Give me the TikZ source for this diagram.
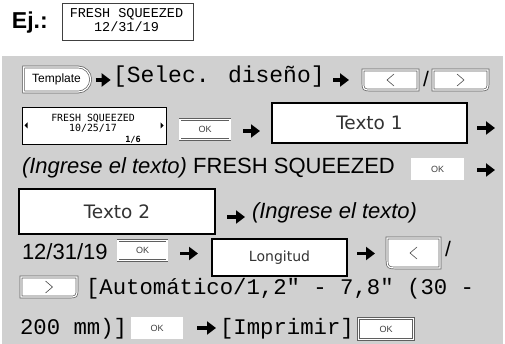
\documentclass[tikz,border=0pt]{standalone}
\usepackage{fontspec}
\setmainfont{Liberation Sans}
\newfontfamily\courf{Liberation Mono}
\newfontfamily\lcdf{DejaVu Sans Mono}
\newfontfamily\dejf{DejaVu Sans}
\usetikzlibrary{arrows.meta,shapes.misc,calc}
\definecolor{panel}{RGB}{208,208,208}
\definecolor{btnline}{RGB}{95,95,95}
\newcommand\leftkey[2]{\draw[btn] (#1.north west) -- (#1.north east) -- (#1.south east) -- ([xshift=#2]#1.south west) .. controls (#1.south west) .. ([yshift=#2]#1.south west) -- cycle;
  \draw[chev] ($(#1)+(3.5,-6)$) -- ($(#1)+(-3.5,0)$) -- ($(#1)+(3.5,6)$);}
\newcommand\rightkey[2]{\draw[btn] (#1.north west) -- (#1.north east) -- ([yshift=#2]#1.south east) .. controls (#1.south east) .. ([xshift=-#2]#1.south east) -- (#1.south west) -- cycle;
  \draw[chev] ($(#1)+(-3.5,-6)$) -- ($(#1)+(3.5,0)$) -- ($(#1)+(-3.5,6)$);}
\begin{document}
\begin{tikzpicture}[x=1pt,y=-1pt,
  every node/.style={inner sep=0pt, outer sep=0pt},
  arr/.style={line width=3.8pt, -{Triangle[length=9pt,width=13pt]}},
  btn/.style={draw=btnline, double=white, double distance=1.2pt, line width=0.7pt, fill=white},
  okbtn/.style={btn, minimum width=50pt, minimum height=20pt, font=\fontsize{9}{9}\selectfont, text=black!75},
  keybox/.style={minimum width=55pt, minimum height=20pt},
  chev/.style={draw=black!70, line width=0.6pt},
  bigbox/.style={draw=black, line width=2pt, fill=white, font=\dejf\fontsize{18.5}{18.5}\selectfont, text=black!80},
  courtxt/.style={anchor=base west, font=\courf\fontsize{23}{23}\selectfont},
  courtxtb/.style={anchor=base west, font=\courf\fontsize{22.3}{22.3}\selectfont},
  sanstxt/.style={anchor=base west, font=\fontsize{22}{22}\selectfont},
  slash/.style={anchor=base, font=\fontsize{21}{21}\selectfont},
  lcdtxt/.style={font=\lcdf\fontsize{9.9}{7.2}\selectfont, align=center},
]
\useasboundingbox (0,0) rectangle (505,344);
% example
\node[anchor=base west, font=\bfseries\fontsize{23}{23}\selectfont] (ej) at (12,29) {Ej.:};
\node[draw=black!75, line width=0.7pt, fill=white, minimum width=131pt, minimum height=37pt] (ex) at (127.5,21.5) {};
\node[font=\courf\fontsize{13.5}{11.5}\selectfont, align=center] (ex1) at (126.5,20) {FRESH SQUEEZED\\12/31/19};
% panel
\fill[panel] (2,56) rectangle (503,344);
% row 1
\node[btn, rounded rectangle, rounded rectangle west arc=none, minimum width=67pt, minimum height=25pt, font=\fontsize{12}{12}\selectfont] (tpl) at (56.5,79.5) {Template};
\draw[arr] ($(tpl.east)+(5,0.5)$) -- ++(15,0);
\node[courtxt] (sel) at (113,83) {[Selec. diseño]};
\node[keybox] (lb1) at (390.5,80) {};
\draw[arr] ($(lb1.west)+(-30,0)$) -- ++(16,0);
\leftkey{lb1}{9pt}
\node[slash] (sl1) at (426,87) {/};
\node[keybox] (rb1) at (460.5,80) {};
\rightkey{rb1}{9pt}
% row 2
\node[draw=black, line width=0.8pt, fill=white, minimum width=144pt, minimum height=37pt] (lcd) at (94,125.5) {};
\node[lcdtxt] (lcd1) at (93,123.5) {FRESH SQUEEZED\\10/25/17};
\node[font=\lcdf\bfseries\fontsize{8.5}{8.5}\selectfont] (lcd3) at (133,140) {1/6};
\fill ($(lcd.west)+(2.5,0)$) -- ++(3,-3) -- ++(0,6) -- cycle;
\fill ($(lcd.east)+(-2.5,0)$) -- ++(-3,-3) -- ++(0,6) -- cycle;
\node[okbtn] (ok1) at (205,129.5) {OK};
\draw[arr] ($(ok1.east)+(13,1.5)$) -- ++(17,0);
\node[bigbox, minimum width=195pt, minimum height=40pt] (t1) at (369.5,123) {Texto 1};
\draw[arr] ($(t1.east)+(10,5)$) -- ++(18,0);
% row 3
\node[sanstxt] (ing1) at (22,174) {\textit{(Ingrese el texto)} FRESH SQUEEZED};
\node[okbtn, minimum width=51pt] (ok2) at (437.5,169) {OK};
\draw[arr] ($(ok2.east)+(14,1)$) -- ++(18,0);
% row 4
\node[bigbox, minimum width=196pt, minimum height=45pt] (t2) at (117,211.5) {Texto 2};
\draw[arr] ($(t2.east)+(12,5.5)$) -- ++(18,0);
\node[sanstxt] (ing2) at (252,219) {\textit{(Ingrese el texto)}};
% row 5
\node[sanstxt] (date) at (22,259) {12/31/19};
\node[okbtn, minimum width=49pt] (ok3) at (142.5,250.5) {OK};
\draw[arr] ($(ok3.east)+(13,3)$) -- ++(18,0);
\node[bigbox, minimum width=135pt, minimum height=36pt, font=\dejf\fontsize{14}{14}\selectfont] (lon) at (279.5,257.5) {Longitud};
\draw[arr] ($(lon.east)+(10,-4)$) -- ++(18,0);
\node[keybox, minimum width=53pt, minimum height=30pt] (lb2) at (413.5,253) {};
\leftkey{lb2}{12pt}
\node[slash] (sl2) at (448,257) {/};
% row 6
\node[keybox, minimum width=56pt] (rb2) at (49,287) {};
\rightkey{rb2}{9pt}
\node[courtxtb] (auto) at (86,294) {[Automático/1,2" - 7,8" (30 -};
% row 7
\node[courtxtb] (mm) at (20,334) {200 mm)]};
\node[okbtn] (ok4) at (157,328) {OK};
\draw[arr] ($(ok4.east)+(15,0)$) -- ++(19,0);
\node[courtxtb] (imp) at (220,334) {[Imprimir]};
\node[okbtn, minimum width=55pt, minimum height=21pt] (ok5) at (386,329) {OK};
\end{tikzpicture}
\end{document}
